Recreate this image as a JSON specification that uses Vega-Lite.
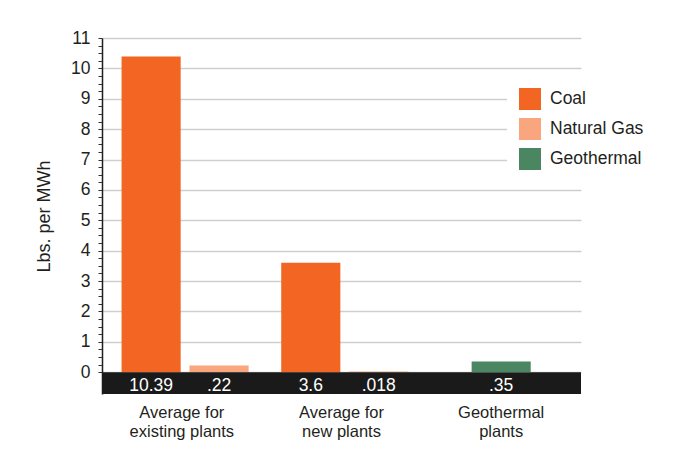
{
  "$schema": "https://vega.github.io/schema/vega-lite/v6.json",
  "width": 479,
  "height": 356,
  "autosize": {"type": "none"},
  "padding": {"left": 102, "top": 38, "right": 118, "bottom": 68},
  "background": "#ffffff",
  "config": {
    "font": "Liberation Sans, sans-serif",
    "view": {"stroke": null}
  },
  "data": {
    "values": [
      {"group": "Average for existing plants", "type": "Coal", "value": 10.39, "label": "10.39"},
      {"group": "Average for existing plants", "type": "Natural Gas", "value": 0.22, "label": ".22"},
      {"group": "Average for new plants", "type": "Coal", "value": 3.6, "label": "3.6"},
      {"group": "Average for new plants", "type": "Natural Gas", "value": 0.018, "label": ".018"},
      {"group": "Geothermal plants", "type": "Geothermal", "value": 0.35, "label": ".35"}
    ]
  },
  "resolve": {"scale": {"y": "shared"}, "axis": {"y": "independent"}},
  "layer": [
    {
      "transform": [{"filter": "datum.type != 'Geothermal'"}],
      "mark": {"type": "bar"},
      "encoding": {
        "x": {
          "field": "group",
          "type": "nominal",
          "sort": null,
          "scale": {"paddingInner": 0, "paddingOuter": 0},
          "axis": {
            "title": null,
            "labelAngle": 0,
            "domain": false,
            "ticks": false,
            "labelPadding": 10,
            "labelFontSize": 16.5,
            "labelColor": "#231f20",
            "labelLineHeight": 19,
            "labelBaseline": "top",
            "labelExpr": "datum.label == 'Geothermal plants' ? ['Geothermal', 'plants'] : [slice(datum.label, 0, 11), slice(datum.label, 12)]"
          }
        },
        "xOffset": {
          "field": "type",
          "type": "nominal",
          "scale": {"domain": ["Coal", "Natural Gas"], "paddingInner": 0.13, "paddingOuter": 0.24, "align": 0.6}
        },
        "y": {
          "field": "value",
          "type": "quantitative",
          "scale": {"domain": [-0.72, 11], "nice": false, "zero": false},
          "axis": {
            "orient": "left",
            "values": [0,0.25,0.5,0.75,1,1.25,1.5,1.75,2,2.25,2.5,2.75,3,3.25,3.5,3.75,4,4.25,4.5,4.75,5,5.25,5.5,5.75,6,6.25,6.5,6.75,7,7.25,7.5,7.75,8,8.25,8.5,8.75,9,9.25,9.5,9.75,10,10.25,10.5,10.75,11],
            "labelExpr": "datum.value % 1 == 0 ? format(datum.value, 'd') : ''",
            "labelOverlap": false,
            "labelBound": false,
            "labelFlush": false,
            "title": "Lbs. per MWh",
            "titleFontSize": 18,
            "titleFontWeight": "normal",
            "titleColor": "#231f20",
            "titleX": -49,
            "titleY": 178,
            "titleAngle": 270,
            "titleAlign": "center",
            "titleBaseline": "bottom",
            "labelFontSize": 17.5,
            "labelColor": "#231f20",
            "labelPadding": 8,
            "tickSize": 4,
            "tickColor": "#333333",
            "tickWidth": 1,
            "domainColor": "#231f20",
            "domainWidth": 1.5,
            "grid": true,
            "gridColor": "#cfcfcf",
            "gridWidth": 1.5,
            "gridOpacity": {"condition": {"test": "datum.value % 1 == 0", "value": 1}, "value": 0}
          }
        },
        "color": {
          "field": "type",
          "type": "nominal",
          "scale": {"domain": ["Coal", "Natural Gas", "Geothermal"], "range": ["#f26522", "#f9a57d", "#4b8662"]},
          "legend": {
            "title": null,
            "orient": "none",
            "legendX": 405,
            "legendY": 38,
            "fillColor": "#ffffff",
            "padding": 12,
            "symbolType": "square",
            "symbolSize": 484,
            "symbolStrokeWidth": 0,
            "symbolOpacity": 1,
            "labelFontSize": 17.5,
            "labelColor": "#231f20",
            "labelOffset": 9,
            "rowPadding": 8
          }
        }
      }
    },
    {
      "data": {"values": [{"band": "value strip"}]},
      "mark": {"type": "rect", "color": "#1a1a1a"},
      "encoding": {
        "y": {"datum": -0.72, "type": "quantitative", "axis": null},
        "y2": {"datum": 0}
      }
    },
    {
      "transform": [{"filter": "datum.type == 'Geothermal'"}],
      "mark": {"type": "bar", "width": {"band": 0.37}},
      "encoding": {
        "x": {"field": "group", "type": "nominal", "sort": null},
        "y": {"field": "value", "type": "quantitative", "axis": null},
        "color": {"field": "type", "type": "nominal"}
      }
    },
    {
      "transform": [{"filter": "datum.type != 'Geothermal'"}],
      "mark": {"type": "text", "color": "#ffffff", "fontSize": 17.5, "baseline": "alphabetic"},
      "encoding": {
        "x": {"field": "group", "type": "nominal", "sort": null},
        "xOffset": {"field": "type", "type": "nominal"},
        "y": {"datum": -0.62, "type": "quantitative", "axis": null},
        "text": {"field": "label"}
      }
    },
    {
      "transform": [{"filter": "datum.type == 'Geothermal'"}],
      "mark": {"type": "text", "color": "#ffffff", "fontSize": 17.5, "baseline": "alphabetic"},
      "encoding": {
        "x": {"field": "group", "type": "nominal", "sort": null},
        "y": {"datum": -0.62, "type": "quantitative", "axis": null},
        "text": {"field": "label"}
      }
    }
  ]
}
